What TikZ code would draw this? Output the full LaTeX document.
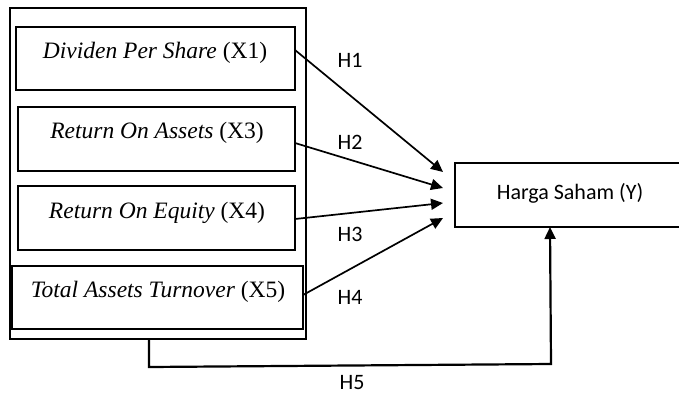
\documentclass[tikz,border=0pt]{standalone}
\usepackage{fontspec}
\setmainfont{Liberation Serif}
\newfontfamily\lblfont{Carlito}
\usetikzlibrary{arrows.meta}
\begin{document}
\begin{tikzpicture}[x=1pt,y=-1pt,
  box/.style={draw,line width=1.7pt},
  vartext/.style={font=\fontsize{23.5}{27}\selectfont, inner sep=0pt},
  lbl/.style={font=\lblfont\fontsize{22}{25}\selectfont, inner sep=0pt},
  arr/.style={line width=1.7pt,-{Triangle[length=12pt,width=11pt]}}]
\useasboundingbox (0,0) rectangle (679,394);
% outer group box
\draw[box] (10,8) rectangle (306,339);
\coordinate (outerb) at (149,338);
% inner boxes
\draw[box] (16,27) rectangle (295,90);
\draw[box] (18,107) rectangle (295,171);
\draw[box] (18,186) rectangle (295,250);
\draw[box] (12,266) rectangle (303,329);
\node[vartext] (x1) at (155,53) {\textit{Dividen Per Share} (X1)};
\node[vartext] (x3) at (157,133) {\textit{Return On Assets} (X3)};
\node[vartext] (x4) at (157,213) {\textit{Return On Equity} (X4)};
\node[vartext] (x5) at (158,292) {\textit{Total Assets Turnover} (X5)};
\coordinate (s1) at (295,50);
\coordinate (s2) at (295,143);
\coordinate (s3) at (295,219);
\coordinate (s4) at (303,295);
% target box
\draw[box] (455,163) rectangle (690,227);
\node[lbl] (y) at (570,193) {Harga Saham (Y)};
\coordinate (t1) at (443,172);
\coordinate (t2) at (443,188);
\coordinate (t3) at (443,203);
\coordinate (t4) at (443,218);
\coordinate (ty) at (550,227);
% arrows
\draw[arr] (s1) -- (t1);
\draw[arr] (s2) -- (t2);
\draw[arr] (s3) -- (t3);
\draw[arr] (s4) -- (t4);
\draw[line width=2.2pt,-{Triangle[length=12pt,width=11pt]}] (outerb) -- (149,367) -- (551,364) -- (ty);
% labels
\node[lbl] (h1) at (350,60) {H1};
\node[lbl] (h2) at (350,142) {H2};
\node[lbl] (h3) at (350,234) {H3};
\node[lbl] (h4) at (350,297) {H4};
\node[lbl] (h5) at (352,383) {H5};
\end{tikzpicture}
\end{document}
